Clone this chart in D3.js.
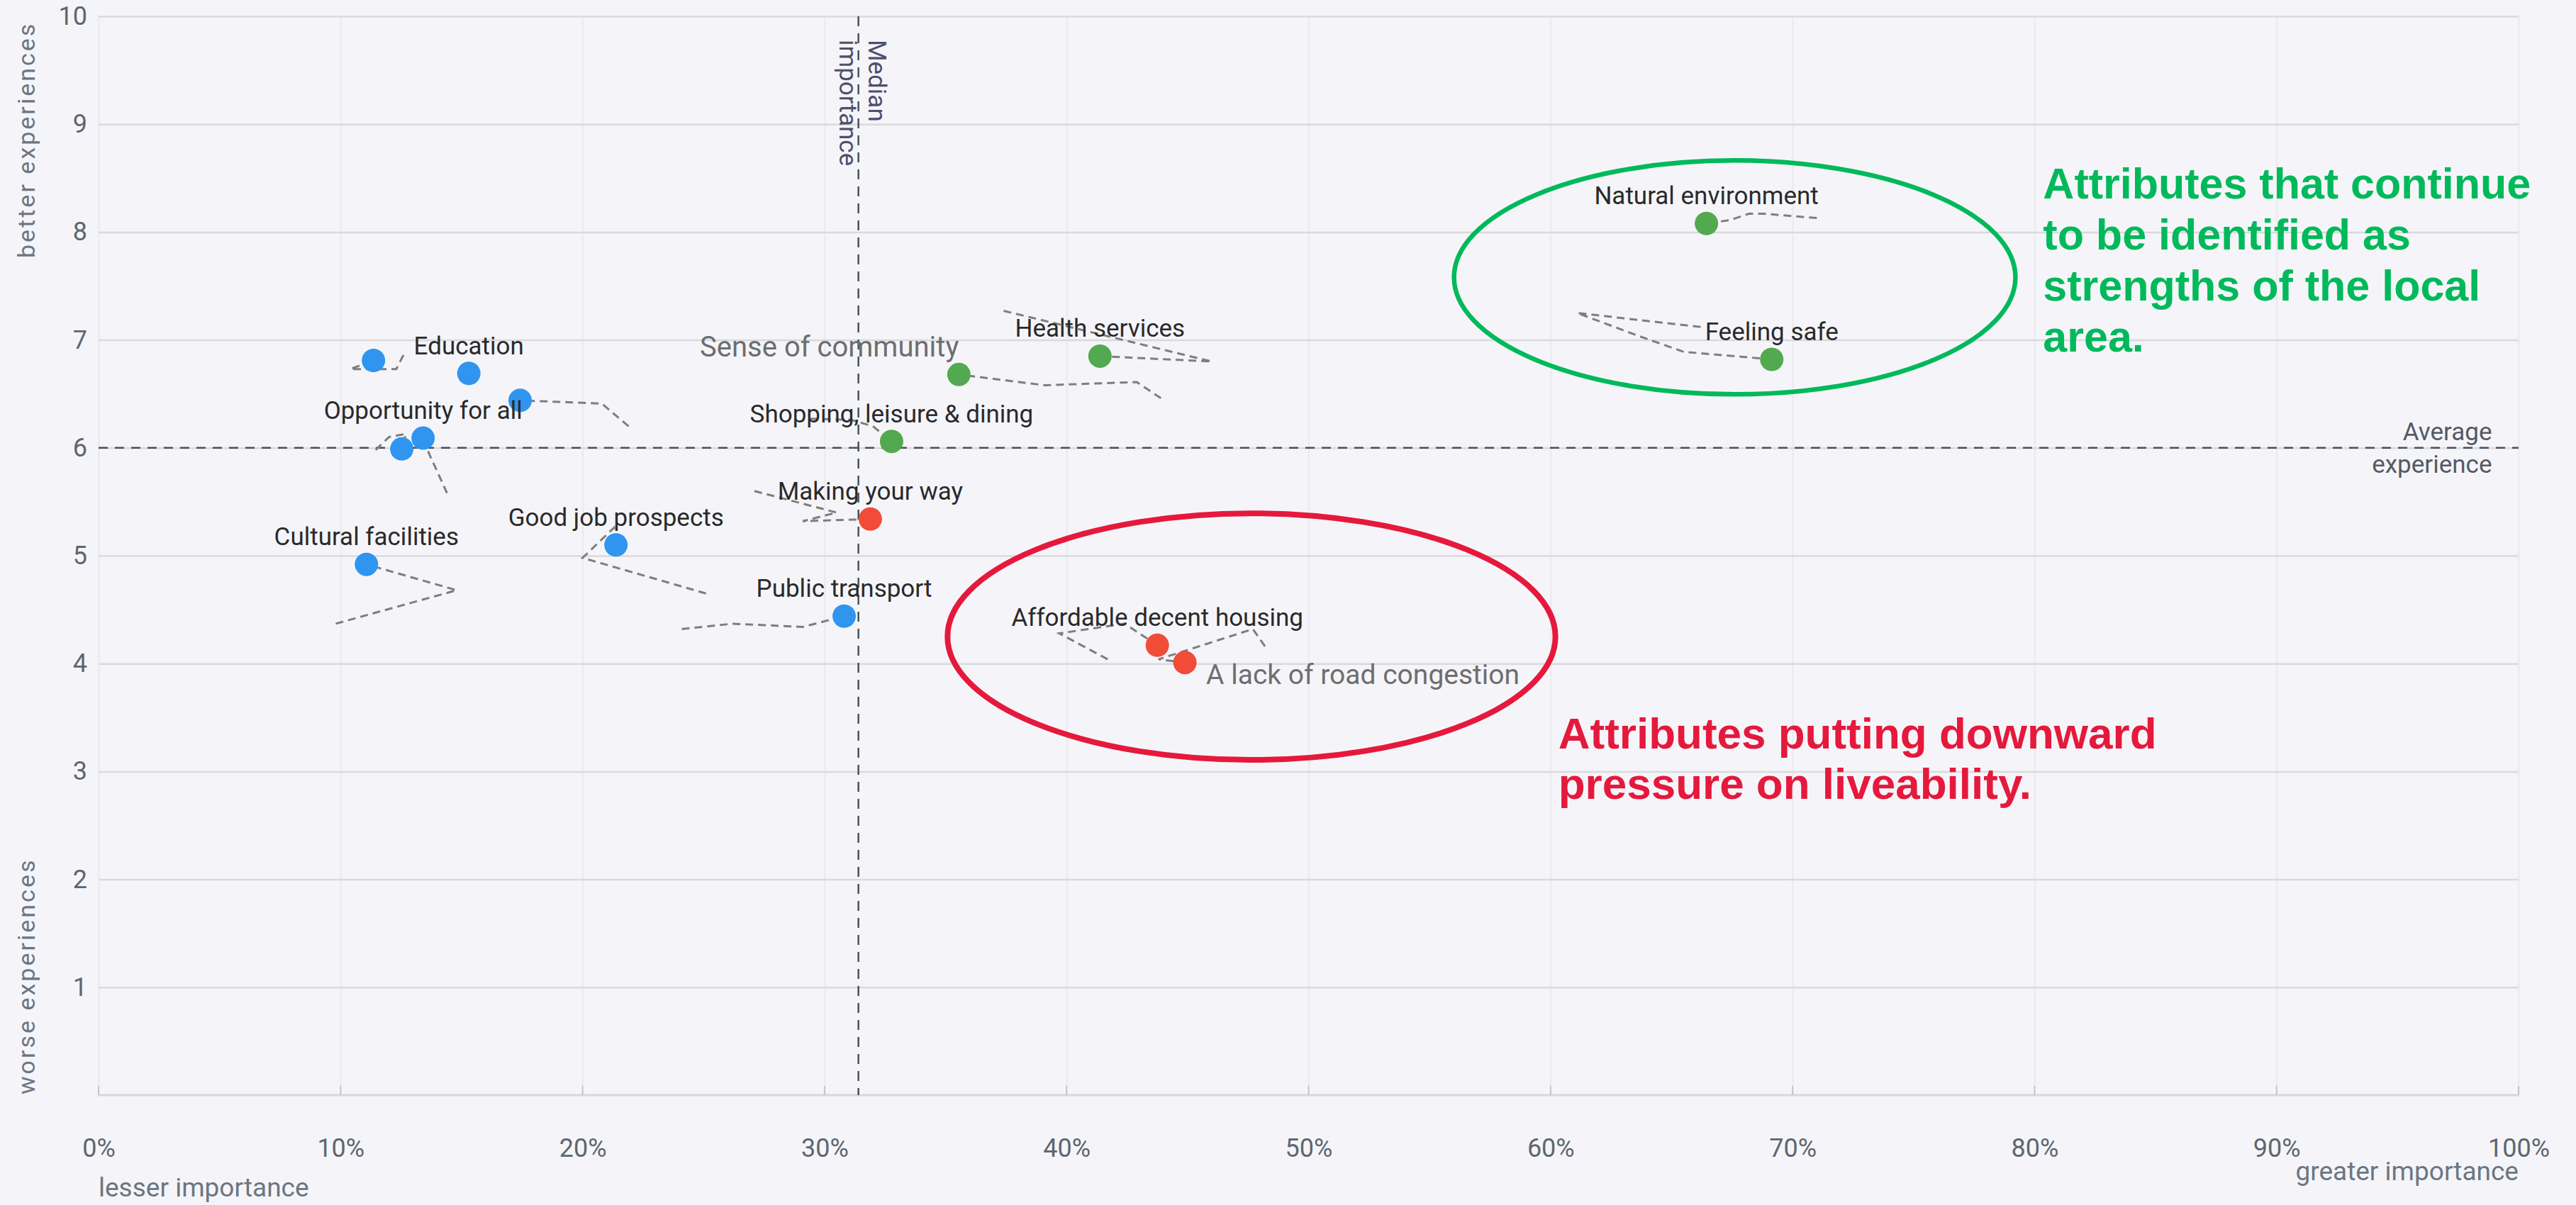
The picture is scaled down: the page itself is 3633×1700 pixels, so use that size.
<!DOCTYPE html>
<html><head><meta charset="utf-8">
<script src="https://cdn.jsdelivr.net/npm/d3@7"></script>
<style>html,body{margin:0;padding:0;background:#f5f5f9;} svg{display:block;font-family:Roboto,"Noto Sans",sans-serif;}</style>
</head><body><svg id="chart" width="3633" height="1700"></svg>
<script>
// ---- data ----
const names = ["Education", "", "", "Opportunity for all", "", "Cultural facilities", "Good job prospects",
  "Public transport", "Making your way", "Shopping, leisure & dining", "Sense of community", "Health services",
  "Affordable decent housing", "A lack of road congestion", "Natural environment", "Feeling safe"];
const importance = [15.3, 11.36, 17.42, 13.41, 12.53, 11.07, 21.38, 30.81, 31.89, 32.77, 35.55, 41.38, 43.75, 44.89, 66.44, 69.14];
const experience = [6.69, 6.81, 6.44, 6.09, 5.99, 4.92, 5.10, 4.44, 5.34, 6.06, 6.68, 6.85, 4.17, 4.01, 8.08, 6.82];
const group = ["neutral", "neutral", "neutral", "neutral", "neutral", "neutral", "neutral", "neutral",
  "pressure", "strength", "strength", "strength", "pressure", "pressure", "strength", "strength"];
const trails = [
  [],
  [[12.6, 6.86], [12.3, 6.73], [10.4, 6.73]],
  [[21.9, 6.20], [20.8, 6.41]],
  [[14.4, 5.58], [13.65, 5.95]],
  [[11.45, 5.98], [12.0, 6.10], [12.7, 6.13]],
  [[9.8, 4.37], [14.8, 4.68]],
  [[25.1, 4.65], [20.0, 4.98], [21.3, 5.26]],
  [[24.1, 4.32], [26.2, 4.37], [29.1, 4.34]],
  [[27.1, 5.60], [30.5, 5.40], [29.1, 5.32]],
  [[29.4, 6.27], [31.1, 6.26], [32.0, 6.20]],
  [[43.9, 6.46], [42.9, 6.61], [39.1, 6.58]],
  [[37.4, 7.27], [46.0, 6.80]],
  [[41.7, 4.04], [39.7, 4.28], [42.4, 4.37]],
  [[48.2, 4.16], [47.7, 4.32], [43.8, 4.04]],
  [[71.0, 8.13], [68.8, 8.17], [68.2, 8.17], [67.4, 8.11]],
  [[66.2, 7.12], [61.1, 7.25], [63.6, 7.04], [65.5, 6.89]]
];
const xTicks = [0, 10, 20, 30, 40, 50, 60, 70, 80, 90, 100];
const yTicks = [1, 2, 3, 4, 5, 6, 7, 8, 9, 10];
const medianImportance = 31.4;
const averageExperience = 6;
const greenNote = ["Attributes that continue", "to be identified as", "strengths of the local", "area."];
const redNote = ["Attributes putting downward", "pressure on liveability."];

// ---- chart ----
const colors = {neutral: "#2f95ef", strength: "#53a94f", pressure: "#f04c38"};
const svg = d3.select("#chart");
const x = d3.scaleLinear().domain([0, 100]).range([139, 3552]);
const y = d3.scaleLinear().domain([0, 10]).range([1545, 23]);
const plotW = x(100) - x(0), plotH = y(0) - y(10);

// vertical grid + x labels
const gx = svg.append("g").attr("transform", `translate(0,${y(0)})`)
  .call(d3.axisBottom(x).tickValues(xTicks).tickSize(-plotH).tickPadding(61).tickFormat(d => d + "%"));
gx.select(".domain").remove();
gx.selectAll(".tick line").attr("stroke", "#e9e9ee").attr("stroke-width", 2);
gx.selectAll(".tick text").attr("font-size", 36).attr("fill", "#5d6670").attr("font-family", "Roboto");

// horizontal grid + y labels
const gy = svg.append("g").attr("transform", `translate(${x(0)},0)`)
  .call(d3.axisLeft(y).tickValues(yTicks).tickSize(-plotW).tickPadding(16).tickFormat(d => d));
gy.select(".domain").remove();
gy.selectAll(".tick line").attr("stroke", "#dadadd").attr("stroke-width", 2.5);
gy.selectAll(".tick text").attr("font-size", 36).attr("fill", "#5d6670").attr("font-family", "Roboto");

// x axis line + inner ticks
svg.append("line").attr("x1", x(0)).attr("x2", x(100)).attr("y1", y(0)).attr("y2", y(0))
  .attr("stroke", "#d8d8db").attr("stroke-width", 3);
svg.append("g").selectAll("line").data(xTicks).join("line")
  .attr("x1", d => x(d)).attr("x2", d => x(d)).attr("y1", y(0) - 13).attr("y2", y(0))
  .attr("stroke", "#c6c6c9").attr("stroke-width", 2);

// plot lines
const plc = "#46525c";
svg.append("line").attr("x1", x(medianImportance)).attr("x2", x(medianImportance)).attr("y1", y(10)).attr("y2", y(0))
  .attr("stroke", plc).attr("stroke-width", 2.5).attr("stroke-dasharray", "14,10");
svg.append("line").attr("x1", x(0)).attr("x2", x(100)).attr("y1", y(averageExperience)).attr("y2", y(averageExperience))
  .attr("stroke", plc).attr("stroke-width", 2.5).attr("stroke-dasharray", "13,10");

const ml = svg.append("text").attr("transform", `translate(${x(medianImportance)},${y(10) + 33}) rotate(90)`)
  .attr("font-size", 35).attr("fill", "#4f4f6e");
ml.append("tspan").attr("x", 0).attr("y", -14).text("Median");
ml.append("tspan").attr("x", 0).attr("y", 27).text("importance");

const al = svg.append("text").attr("text-anchor", "end").attr("font-size", 35).attr("fill", "#555a66");
al.append("tspan").attr("x", x(98.9)).attr("y", y(averageExperience) - 11).text("Average");
al.append("tspan").attr("x", x(98.9)).attr("y", y(averageExperience) + 35).text("experience");

// trails
const line = d3.line().x(d => x(d[0])).y(d => y(d[1]));
svg.append("g").selectAll("path").data(d3.range(names.length).filter(i => trails[i].length)).join("path")
  .attr("d", i => line([...trails[i], [importance[i], experience[i]]]))
  .attr("fill", "none").attr("stroke", "#7e7e7e").attr("stroke-width", 3).attr("stroke-dasharray", "11,7");

// dots
svg.append("g").selectAll("circle").data(d3.range(names.length)).join("circle")
  .attr("cx", i => x(importance[i])).attr("cy", i => y(experience[i])).attr("r", 16.5)
  .attr("fill", i => colors[group[i]]);

// point labels
const special = {
  "Sense of community": {anchor: "end", dx: 0, dy: -25, size: 40, fill: "#6e6e6e"},
  "A lack of road congestion": {anchor: "start", dx: 30, dy: 30, size: 39, fill: "#6e6e6e"}
};
svg.append("g").selectAll("text").data(d3.range(names.length).filter(i => names[i])).join("text")
  .attr("x", i => x(importance[i]) + (special[names[i]] ? special[names[i]].dx : 0))
  .attr("y", i => y(experience[i]) + (special[names[i]] ? special[names[i]].dy : -27))
  .attr("text-anchor", i => special[names[i]] ? special[names[i]].anchor : "middle")
  .attr("font-size", i => special[names[i]] ? special[names[i]].size : 35)
  .attr("fill", i => special[names[i]] ? special[names[i]].fill : "#2a2a2a")
  .text(i => names[i]);

// axis titles
const tc = "#6c7682";
svg.append("text").attr("transform", `translate(49,364) rotate(-90)`).attr("font-size", 34)
  .attr("letter-spacing", 3).attr("fill", tc).text("better experiences");
svg.append("text").attr("transform", `translate(49,1544) rotate(-90)`).attr("font-size", 34)
  .attr("letter-spacing", 3).attr("fill", tc).text("worse experiences");
svg.append("text").attr("x", x(0)).attr("y", 1688).attr("font-size", 37).attr("fill", tc).text("lesser importance");
svg.append("text").attr("x", x(100)).attr("y", 1665).attr("text-anchor", "end").attr("font-size", 37)
  .attr("fill", tc).text("greater importance");

// annotations
svg.append("ellipse").attr("cx", x(67.61)).attr("cy", y(7.58))
  .attr("rx", x(67.61 + 11.6) - x(67.61)).attr("ry", y(7.58) - y(7.58 + 1.084))
  .attr("fill", "none").attr("stroke", "#00b95a").attr("stroke-width", 6.5);
svg.append("ellipse").attr("cx", x(47.64)).attr("cy", y(4.25))
  .attr("rx", x(47.64 + 12.56) - x(47.64)).attr("ry", y(4.25) - y(4.25 + 1.143))
  .attr("fill", "none").attr("stroke", "#e5193c").attr("stroke-width", 8);

const gt = svg.append("text").attr("font-family", "'Liberation Sans', Arial, sans-serif").attr("font-weight", "bold")
  .attr("font-size", 61).attr("fill", "#00b95a");
greenNote.forEach((t, k) => gt.append("tspan").attr("x", x(80.35)).attr("y", y(8.31) + k * 72).text(t));
const rt = svg.append("text").attr("font-family", "'Liberation Sans', Arial, sans-serif").attr("font-weight", "bold")
  .attr("font-size", 62).attr("fill", "#e5193c");
redNote.forEach((t, k) => rt.append("tspan").attr("x", x(60.32)).attr("y", y(3.21) + k * 71).text(t));
</script>
</body></html>
